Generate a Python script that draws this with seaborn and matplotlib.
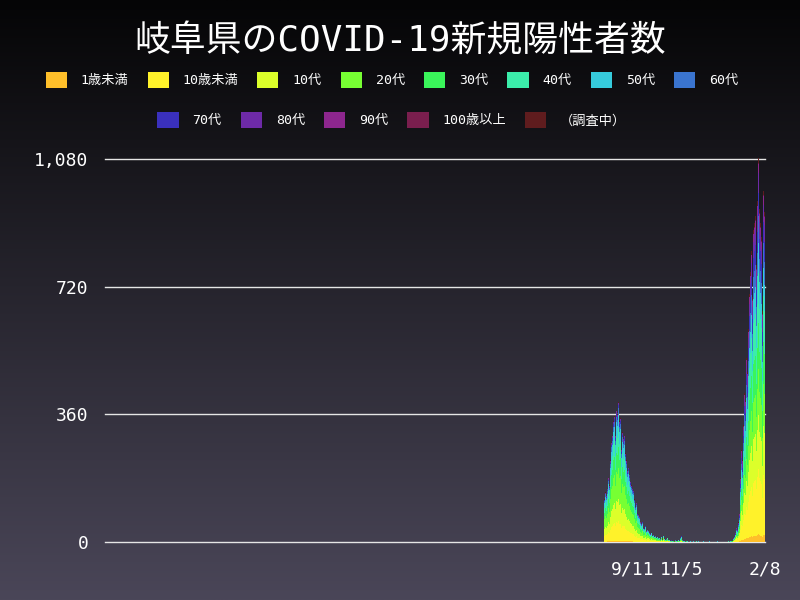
import numpy as np
import pandas as pd
import seaborn as sns
import matplotlib.pyplot as plt
from matplotlib.patches import Patch

# age groups (bottom -> top of the stack) and their colours
ages = ['1歳未満', '10歳未満', '10代', '20代', '30代', '40代', '50代',
        '60代', '70代', '80代', '90代', '100歳以上', '（調査中）']
colors = ['#ffbf2a', '#fff22a', '#dcff2a', '#77ff33', '#3af55a', '#3bedaa',
          '#36cbdc', '#3a74cf', '#3a30bd', '#6e2aa8', '#8d268e', '#7a1e4e', '#5f1c1e']

# x axis range of the chart
axis_start = '2020-01-18'
axis_end = '2022-02-08'

# daily new cases
wave5_start = '2021-08-09'
totals_wave5 = [120, 95, 140, 130, 150, 180, 160, 230, 280, 320,
                300, 340, 355, 300, 370, 360, 395, 340, 330, 350,
                260, 310, 290, 300, 250, 230, 240, 200, 210, 190,
                170, 160, 150, 145, 130, 120, 100, 110, 80, 75,
                70, 55, 48, 50, 56, 40, 38, 45, 30, 35,
                28, 32, 25, 22, 26, 18, 20, 15, 24, 17,
                12, 14, 10, 12, 8, 15, 10, 7, 18, 9,
                6, 8, 12, 5, 4, 6]
lull_start = '2021-10-24'
totals_lull = [3, 5, 2, 4, 1, 6, 3, 2, 4, 7,
               3, 12, 18, 6, 3, 3, 2, 1, 4, 2,
               0, 1, 3, 2, 1, 0, 2, 1, 0, 3,
               1, 0, 2, 0, 1, 1, 0, 2, 0, 1,
               0, 0, 1, 0, 2, 0, 0, 1, 0, 0,
               1, 0, 0, 2, 0, 1, 0, 0, 1, 0,
               0, 1, 0, 2, 1, 0, 3, 1, 2, 4]
wave6_start = '2022-01-02'
totals_wave6 = [3, 4, 10, 15, 25, 40, 35, 55, 80, 120,
                180, 260, 230, 330, 420, 400, 520, 560, 480, 600,
                700, 760, 820, 690, 880, 850, 900, 920, 780, 960,
                1082, 940, 900, 870, 860, 650, 990, 930]

# age make-up of each period (percent), estimated from the colours
share_wave5 = [1, 14, 16, 22, 15, 13, 10, 4.5, 2, 1.5, 0.5, 0, 0.5]
share_lull = [1, 6, 8, 18, 14, 14, 14, 10, 6, 4, 2, 0, 3]
share_wave6 = [2, 17, 14, 12, 12, 13, 8, 7, 6, 5, 2.5, 0.2, 1.3]

tick_dates = ['2021-09-11', '2021-11-05', '2022-02-08']
tick_labels = ['9/11', '11/5', '2/8']

t0 = pd.Timestamp(axis_start)
n_days = (pd.Timestamp(axis_end) - t0).days + 1

rows = []
for start, totals, share in [(wave5_start, totals_wave5, share_wave5),
                             (lull_start, totals_lull, share_lull),
                             (wave6_start, totals_wave6, share_wave6)]:
    cum = np.cumsum(share) / np.sum(share)
    d0 = (pd.Timestamp(start) - t0).days
    for i, tot in enumerate(totals):
        counts = np.diff(np.concatenate([[0], np.round(tot * cum)]))
        for age, c in zip(ages, counts):
            rows.append({'day': d0 + i, 'age': age, 'n': c})
df = pd.DataFrame(rows)

mono_jp = ['DejaVu Sans Mono', 'Noto Sans CJK JP']
plt.rcParams['font.family'] = mono_jp

fig = plt.figure(figsize=(8, 6), dpi=100)

# background gradient
bg = fig.add_axes([0, 0, 1, 1], zorder=-5)
top = np.array([5, 5, 6]) / 255
bottom = np.array([74, 70, 88]) / 255
grad = np.linspace(0, 1, 256)[:, None, None]
img = top + (bottom - top) * grad
bg.imshow(np.repeat(img, 2, axis=1), aspect='auto', extent=[0, 1, 0, 1])
bg.set_axis_off()

ax = fig.add_axes([105 / 800, 58 / 600, 660 / 800, 392 / 600])
ax.set_facecolor('none')
sns.histplot(data=df, x='day', hue='age', weights='n', discrete=True,
             multiple='stack', hue_order=ages[::-1],
             palette=dict(zip(ages, colors)), edgecolor='none',
             linewidth=0, alpha=1, legend=False, ax=ax)

ax.set_xlim(-0.5, n_days - 0.5)
ax.set_ylim(0, 1105)
ax.set_yticks([0, 360, 720, 1080])
ax.set_yticklabels(['0', '360', '720', '1,080'])
ax.set_xticks([(pd.Timestamp(d) - t0).days for d in tick_dates])
ax.set_xticklabels(tick_labels)
ax.tick_params(length=0, colors='white', labelsize=13)
ax.tick_params(axis='y', pad=12)
ax.tick_params(axis='x', pad=13)
ax.set_xlabel('')
ax.set_ylabel('')
ax.yaxis.grid(True, color='#e6e6e6', linewidth=1)
ax.xaxis.grid(False)
for gl in ax.get_ygridlines():
    gl.set_clip_on(False)
ax.set_axisbelow(True)
for s in ax.spines.values():
    s.set_visible(False)

fig.text(0.5, 1 - 41 / 600, '岐阜県のCOVID-19新規陽性者数', ha='center',
         va='center', fontsize=25.8, color='white', family=mono_jp)

handles = [Patch(facecolor=c, edgecolor='none') for c in colors]
leg_kw = dict(frameon=False, labelcolor='white',
              handlelength=1.6, handleheight=1.6, handletextpad=1.05,
              columnspacing=1.45, prop={'family': mono_jp, 'size': 9.5})
fig.legend(handles[:8], ages[:8], loc='center', ncol=8,
           bbox_to_anchor=(0.49, 1 - 80 / 600), **leg_kw)
fig.legend(handles[8:], ages[8:], loc='center', ncol=5,
           bbox_to_anchor=(0.49, 1 - 120 / 600), **leg_kw)

fig.savefig('out.png', dpi=100)
